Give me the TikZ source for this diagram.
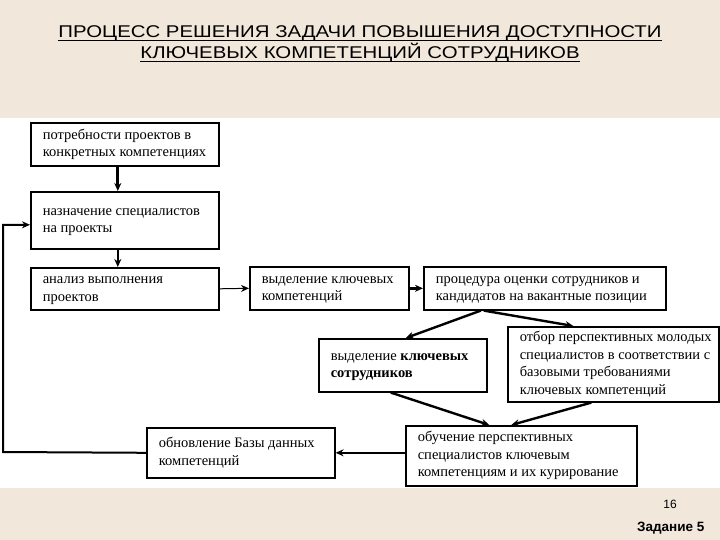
\documentclass[tikz,border=0pt]{standalone}
\usepackage{fontspec}
\setmainfont{Liberation Serif}
\newfontfamily\titlefont{Liberation Sans}
\newfontfamily\headfont[FakeStretch=1.2]{Liberation Sans}
\usetikzlibrary{arrows.meta}
\definecolor{slidebg}{RGB}{241,231,219}
\tikzset{
  blok/.style={draw, line width=1.6pt, anchor=north west,
    inner xsep=12pt, inner ysep=0pt, font=\fontsize{14.5}{17.5}\selectfont},
  strel/.style={-{Stealth[length=8pt,width=7pt]}, line width=2.4pt},
  ttl/.style={anchor=base, inner sep=0pt, font=\headfont\fontsize{17}{20}\selectfont}
}
\begin{document}
\begin{tikzpicture}[x=1pt,y=-1pt]


          \fill[slidebg] (0,0) rectangle (720,540);
          \fill[white] (0,118) rectangle (720,488);
          \useasboundingbox (0,0) rectangle (720,540);

          \node[ttl] (t1) at (360,38) {ПРОЦЕСС РЕШЕНИЯ ЗАДАЧИ ПОВЫШЕНИЯ ДОСТУПНОСТИ};
          \node[ttl] (t2) at (360,59) {КЛЮЧЕВЫХ КОМПЕТЕНЦИЙ СОТРУДНИКОВ};
          \foreach \t in {t1,t2}
          {
            \draw[line width=1.3pt] ([yshift=-2.5pt]\t.base west) -- ([yshift=-2.5pt]\t.base east);
          }

          \foreach \n/\x/\y/\w/\h/\txt in {
            b1/30/122/188/43/{потребности проектов в\\конкретных компетенциях},
            b2/30/191/188/57/{назначение специалистов\\на проекты},
            b3/30/267/188/42/{анализ выполнения\\проектов},
            b4/249/266/159/43/{выделение ключевых\\компетенций},
            b5/423/266/242/43/{процедура оценки сотрудников и\\кандидатов на вакантные позиции},
            b6/318/338/168/53/{выделение \textbf{ключевых}\\\textbf{сотрудников}},
            b7/507/326/211/75/{отбор перспективных молодых\\специалистов в соответствии с\\базовыми требованиями\\ключевых компетенций},
            b8/405/425/231/60/{обучение перспективных\\специалистов ключевым\\компетенциям и их курирование},
            b9/146/427/188/50/{обновление Базы данных\\компетенций}}
          {
            \pgfmathsetmacro\tw{\w-24}
            \node[blok, minimum width=\w pt, minimum height=\h pt] (\n) at (\x,\y)
              {\makebox[\tw pt][l]{\begin{tabular}{@{}l@{}}\txt\end{tabular}}};
          }

          \draw[strel, line width=3pt] ([xshift=-7pt]b1.south) -- ([xshift=-7pt]b2.north);
          \draw[strel] ([xshift=-7pt]b2.south) -- ([xshift=-7pt]b3.north);
          \draw[strel, line width=1pt] (b3.east) -- (b4.west);
          \draw[strel] (b4.east) -- (b5.west);
          \draw[strel] ([xshift=-64pt]b5.south) -- ([xshift=3pt]b6.north);
          \draw[strel] ([xshift=-61pt]b5.south) -- ([xshift=-40pt]b7.north);
          \draw[strel] ([xshift=-12pt]b6.south) -- ([xshift=-32pt]b8.north);
          \draw[strel] ([xshift=-22pt]b7.south) -- ([xshift=-10pt]b8.north);
          \draw[strel] (b8.west |- b9.east) -- (b9.east);
          \coordinate (ret) at (3,452);
          \draw[strel, line width=2pt] (b9.west) -- (ret) |- ([yshift=-4.5pt]b2.west);

          \node[font=\titlefont\fontsize{12}{14}\selectfont] (pg) at (670,504) {16};
          \node[anchor=east, font=\titlefont\bfseries\fontsize{13.5}{16}\selectfont] (zad) at (708,528) {Задание 5};


\end{tikzpicture}
\end{document}
